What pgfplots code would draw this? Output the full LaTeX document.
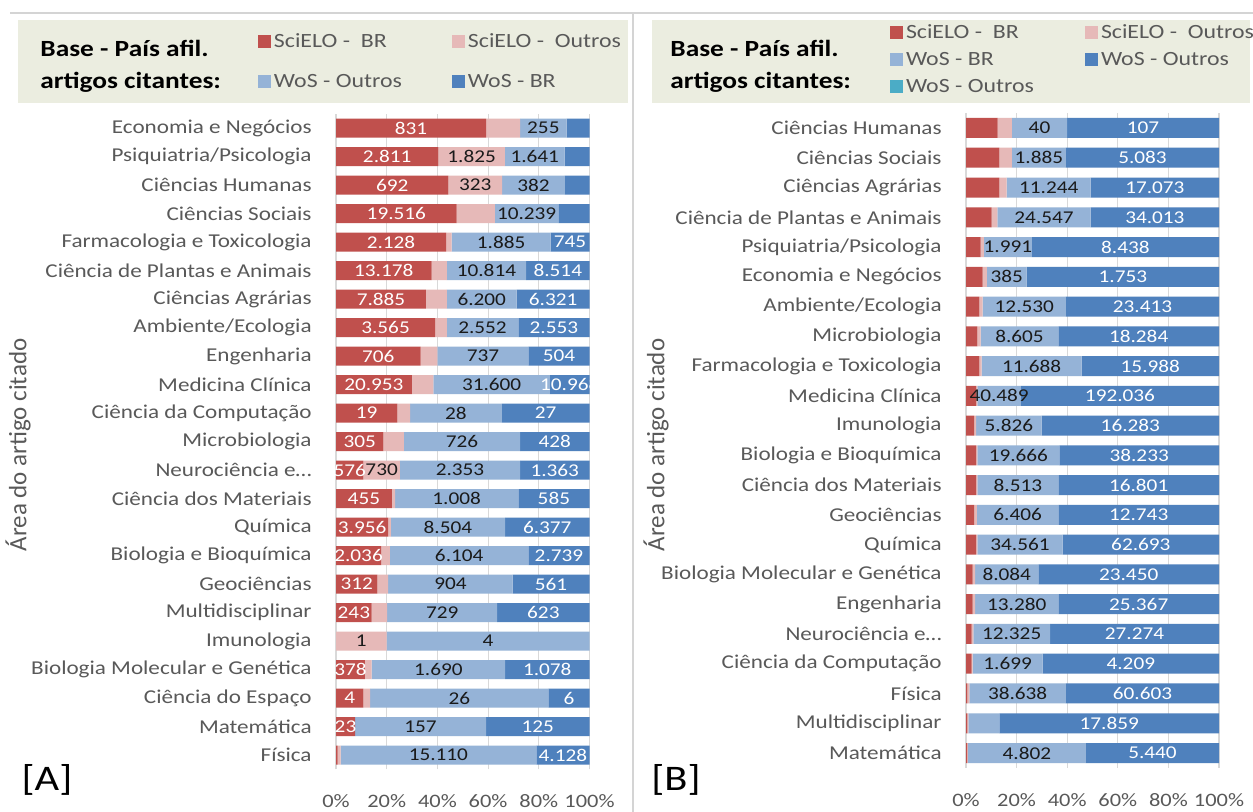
\documentclass[border=0pt]{standalone}
\usepackage{pgfplots}
\pgfplotsset{compat=1.18}
\usepackage{pgfplotstable}
\usepackage{fontspec}
\setmainfont{Carlito}[FakeStretch=1.18]
\newfontfamily\plainfont{Carlito}
\definecolor{cRed}{HTML}{C0504D}
\definecolor{cPink}{HTML}{E6B9B8}
\definecolor{cLB}{HTML}{95B3D7}
\definecolor{cDB}{HTML}{4F81BD}
\definecolor{cTeal}{HTML}{4BACC6}
\definecolor{cLeg}{HTML}{EBEDE0}
\definecolor{cGreyT}{HTML}{595959}
\definecolor{cGrid}{HTML}{D9D9D9}
\definecolor{cLine}{HTML}{D4D4D4}
\definecolor{cDark}{HTML}{1A1A1A}

\pgfplotstableread{
y r p lb db lr lp llb ldb
23 59.2 13.4 18.4 9.0 831 {} 255 {}
22 40.4 26.2 23.6 9.8 2.811 1.825 1.641 {}
21 44.3 21.2 24.8 9.7 692 323 382 {}
20 47.6 15.1 25.0 12.3 19.516 {} 10.239 {}
19 43.4 2.2 39.1 15.3 2.128 {} 1.885 745
18 37.7 6.0 31.3 25.0 13.178 {} 10.814 8.514
17 35.5 8.2 27.6 28.7 7.885 {} 6.200 6.321
16 39.1 4.6 28.2 28.1 3.565 {} 2.552 2.553
15 33.4 6.6 35.9 24.1 706 {} 737 504
14 29.9 8.5 46.0 15.6 20.953 {} 31.600 10.968
13 24.2 5.0 36.2 34.6 19 {} 28 27
12 18.7 8.1 45.8 27.4 305 {} 726 428
11 10.8 14.4 47.4 27.4 576 730 2.353 1.363
10 22.0 1.3 48.6 28.1 455 {} 1.008 585
9 20.6 1.0 45.1 33.3 3.956 {} 8.504 6.377
8 17.8 3.5 54.6 24.1 2.036 {} 6.104 2.739
7 16.3 4.3 49.1 30.3 312 {} 904 561
6 14.1 6.1 43.4 36.4 243 {} 729 623
5 0 20 80 0 {} 1 4 {}
4 11.4 2.7 52.6 33.3 378 {} 1.690 1.078
3 10.8 2.7 70.3 16.2 4 {} 26 6
2 7.5 0 51.7 40.8 23 {} 157 125
1 0.6 1.2 77.2 21.0 {} {} 15.110 4.128
}\dataA

\pgfplotstableread{
y r p lb db llb ldb
22 12.5 5.6 21.9 60.0 40 107
21 13.2 4.9 21.4 60.5 1.885 5.083
20 13.2 2.9 33.2 50.7 11.244 17.073
19 10.1 2.3 36.9 50.7 24.547 34.013
18 5.8 1.3 18.9 74.0 1.991 8.438
17 6.6 1.6 15.8 76.0 385 1.753
16 5.3 1.3 32.9 60.5 12.530 23.413
15 4.5 1.3 30.7 63.5 8.605 18.284
14 5.3 0.9 39.5 54.3 11.688 15.988
13 4.0 0.5 17.2 78.3 40.489 192.036
12 3.2 0.8 25.9 70.1 5.826 16.283
11 4.0 0.5 32.4 63.1 19.666 38.233
10 4.0 0.5 32.0 63.5 8.513 16.801
9 3.2 1.1 32.2 63.5 6.406 12.743
8 4.0 0.5 33.7 61.8 34.561 62.693
7 2.6 1.0 25.0 71.4 8.084 23.450
6 2.6 1.0 32.9 63.5 13.280 25.367
5 2.2 0.7 30.3 66.8 12.325 27.274
4 2.2 0.4 27.7 69.7 1.699 4.209
3 0.5 0.8 38.2 60.5 38.638 60.603
2 0.5 0.4 12.3 86.8 {} 17.859
1 0.4 0.3 46.7 52.6 4.802 5.440
}\dataB

\pgfplotsset{
  panel/.style={
    xbar stacked, scale only axis,
    xmin=0, xmax=100, enlargelimits=false,
    xtick={0,20,40,60,80,100},
    xticklabels={0\%,20\%,40\%,60\%,80\%,100\%},
    xmajorgrids, grid style={draw=cGrid, line width=0.6pt},
    axis line style={draw=none}, major tick length=0pt,
    tick style={draw=none},
    xticklabel style={font=\fontsize{9.5}{11}\selectfont, text=cGreyT, inner sep=0pt, yshift=-12.5pt},
    yticklabel style={font=\fontsize{9.8}{12}\selectfont, text=cGreyT, inner sep=0pt, xshift=-12pt},
    every node near coord/.append style={font=\fontsize{9}{10}\selectfont, inner sep=0pt},
    legend cell align=left,
    legend image code/.code={\fill[#1] (0pt,-3.25pt) rectangle (6.5pt,3.25pt);},
    every axis y label/.style={rotate=90, anchor=center, font=\plainfont\fontsize{12.5}{14}\selectfont, text=cGreyT},
  },
  lab/.style={nodes near coords, point meta=explicit symbolic,
    every node near coord/.append style={anchor=center, text=#1}},
}

\begin{document}
\begin{tikzpicture}
\path[use as bounding box] (0,0) rectangle (626.5pt,-406pt);
\fill[white] (0,0) rectangle (626.5pt,-406pt);
\draw[cLine, line width=0.6pt] (5pt,-6.5pt) -- (626.5pt,-6.5pt);
\draw[cLine, line width=0.6pt] (316.5pt,-6.5pt) -- (316.5pt,-406pt);
\fill[cLeg] (9pt,-10pt) rectangle (314pt,-51.5pt);
\fill[cLeg] (326pt,-10pt) rectangle (625pt,-51.5pt);
\node[anchor=west, inner sep=0pt, font=\bfseries\fontsize{11.6}{14}\selectfont] at (20pt,-24pt) {Base - País afil.};
\node[anchor=west, inner sep=0pt, font=\bfseries\fontsize{11.6}{14}\selectfont] at (20pt,-41pt) {artigos citantes:};
\node[anchor=west, inner sep=0pt, font=\bfseries\fontsize{11.6}{14}\selectfont] at (335pt,-24pt) {Base - País afil.};
\node[anchor=west, inner sep=0pt, font=\bfseries\fontsize{11.6}{14}\selectfont] at (335pt,-41pt) {artigos citantes:};
\node[inner sep=0pt, font=\fontsize{18}{20}\selectfont] at (23.5pt,-390pt) {[A]};
\node[inner sep=0pt, font=\fontsize{18}{20}\selectfont] at (338pt,-390pt) {[B]};

% ---------------- Panel A ----------------
\begin{axis}[panel,
  at={(168pt,-384.625pt)}, anchor=south west,
  width=126.75pt, height=327.75pt, bar width=9.5pt,
  ymin=0.5, ymax=23.5, ytick={1,2,3,4,5,6,7,8,9,10,11,12,13,14,15,16,17,18,19,20,21,22,23},
  yticklabels={Física,Matemática,Ciência do Espaço,Biologia Molecular e Genética,Imunologia,Multidisciplinar,Geociências,Biologia e Bioquímica,Química,Ciência dos Materiais,Neurociência e\ldots,Microbiologia,Ciência da Computação,Medicina Clínica,Engenharia,Ambiente/Ecologia,Ciências Agrárias,Ciência de Plantas e Animais,Farmacologia e Toxicologia,Ciências Sociais,Ciências Humanas,Psiquiatria/Psicologia,Economia e Negócios},
  ylabel={Área do artigo citado},
  every axis y label/.append style={at={(axis description cs:-1.2544,0.4947)}},
  legend columns=2,
  legend style={draw=none, fill=none, inner sep=0pt, outer sep=0pt,
    at={(axis description cs:-0.3077,1.1255)}, anchor=north west,
    nodes={inner sep=0pt, text height=8pt, text depth=2.5pt, font=\fontsize{10.1}{12}\selectfont, text=cGreyT},
    /tikz/every odd column/.append style={column sep=1.5pt},
    /tikz/row sep=9.5pt},
]
\addplot[fill=cRed, draw=none, lab=white] table[x=r, y=y, meta=lr]{\dataA};
\addlegendentry{\makebox[89pt][l]{SciELO -\ \ BR}}
\addplot[fill=cPink, draw=none, lab=cDark] table[x=p, y=y, meta=lp]{\dataA};
\addlegendentry{\makebox[89pt][l]{SciELO -\ \ Outros}}
\addplot[fill=cLB, draw=none, lab=cDark] table[x=lb, y=y, meta=llb]{\dataA};
\addlegendentry{\makebox[89pt][l]{WoS - Outros}}
\addplot[fill=cDB, draw=none, lab=white] table[x=db, y=y, meta=ldb]{\dataA};
\addlegendentry{\makebox[89pt][l]{WoS - BR}}
\end{axis}

% ---------------- Panel B ----------------
\begin{axis}[panel,
  at={(483pt,-383.95pt)}, anchor=south west,
  width=126.5pt, height=327.4pt, bar width=10pt,
  ymin=0.5, ymax=22.5, ytick={1,2,3,4,5,6,7,8,9,10,11,12,13,14,15,16,17,18,19,20,21,22},
  yticklabels={Matemática,Multidisciplinar,Física,Ciência da Computação,Neurociência e\ldots,Engenharia,Biologia Molecular e Genética,Química,Geociências,Ciência dos Materiais,Biologia e Bioquímica,Imunologia,Medicina Clínica,Farmacologia e Toxicologia,Microbiologia,Ambiente/Ecologia,Economia e Negócios,Psiquiatria/Psicologia,Ciência de Plantas e Animais,Ciências Agrárias,Ciências Sociais,Ciências Humanas},
  ylabel={Área do artigo citado},
  every axis y label/.append style={at={(axis description cs:-1.2253,0.4931)}},
  legend columns=2,
  legend style={draw=none, fill=none, inner sep=0pt, outer sep=0pt,
    at={(axis description cs:-0.3004,1.1384)}, anchor=north west,
    nodes={inner sep=0pt, text height=8pt, text depth=2.5pt, font=\fontsize{10.1}{12}\selectfont, text=cGreyT},
    /tikz/every odd column/.append style={column sep=1.5pt},
    /tikz/row sep=3pt},
]
\addplot[fill=cRed, draw=none] table[x=r, y=y]{\dataB};
\addlegendentry{\makebox[89.5pt][l]{SciELO -\ \ BR}}
\addplot[fill=cPink, draw=none] table[x=p, y=y]{\dataB};
\addlegendentry{\makebox[89.5pt][l]{SciELO -\ \ Outros}}
\addplot[fill=cLB, draw=none, lab=cDark] table[x=lb, y=y, meta=llb]{\dataB};
\addlegendentry{\makebox[89.5pt][l]{WoS - BR}}
\addplot[fill=cDB, draw=none, lab=white] table[x=db, y=y, meta=ldb]{\dataB};
\addlegendentry{\makebox[89.5pt][l]{WoS - Outros}}
\addlegendimage{fill=cTeal, draw=none}
\addlegendentry{\makebox[89.5pt][l]{WoS - Outros}}
\end{axis}
\end{tikzpicture}
\end{document}
